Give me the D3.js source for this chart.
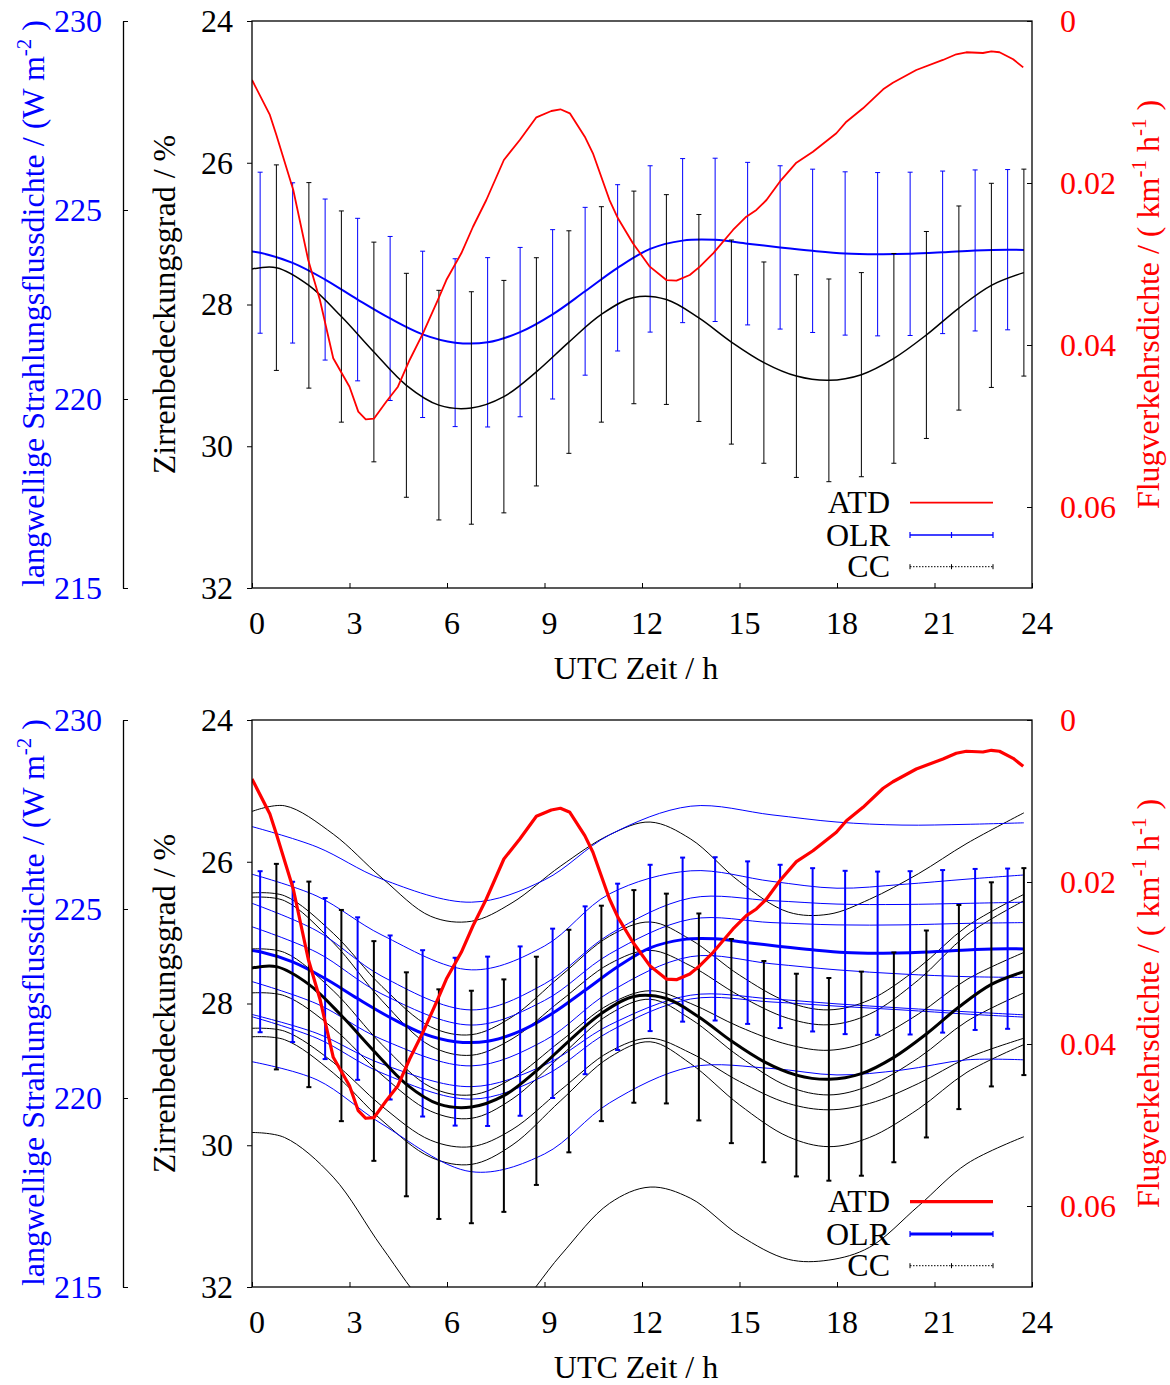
<!DOCTYPE html>
<html>
<head>
<meta charset="utf-8">
<script src="https://cdn.jsdelivr.net/npm/d3@7"></script>
<style>
  body { margin: 0; background: #fff; }
</style>
</head>
<body>
<div id="chart"></div>
<script>
// OLR mean / std, at h + 0.25
const olrHours = [0.25, 1.25, 2.25, 3.25, 4.25, 5.25, 6.25, 7.25, 8.25, 9.25, 10.25, 11.25,
    12.25, 13.25, 14.25, 15.25, 16.25, 17.25, 18.25, 19.25, 20.25, 21.25, 22.25, 23.25]
const olrMean = [223.87, 223.60, 223.16, 222.63, 222.13, 221.71, 221.49, 221.50, 221.77, 222.24, 222.85, 223.47,
    223.97, 224.19, 224.21, 224.11, 224.01, 223.92, 223.85, 223.83, 223.84, 223.88, 223.93, 223.95]
const olrStd = [2.13, 2.12, 2.13, 2.15, 2.17, 2.20, 2.22, 2.24, 2.24, 2.24, 2.22, 2.20,
    2.20, 2.17, 2.16, 2.15, 2.16, 2.16, 2.16, 2.16, 2.16, 2.15, 2.13, 2.12]
const olrStart = 223.90
const olrEnd = 223.94

// CC mean / std, at h + 0.75
const ccHours = [0.75, 1.75, 2.75, 3.75, 4.75, 5.75, 6.75, 7.75, 8.75, 9.75, 10.75, 11.75,
    12.75, 13.75, 14.75, 15.75, 16.75, 17.75, 18.75, 19.75, 20.75, 21.75, 22.75, 23.75]
const ccMean = [27.48, 27.73, 28.17, 28.67, 29.14, 29.42, 29.46, 29.30, 28.95, 28.53, 28.14, 27.90,
    27.93, 28.19, 28.53, 28.82, 29.01, 29.07, 28.99, 28.76, 28.43, 28.05, 27.73, 27.55]
const ccStd = [1.45, 1.45, 1.49, 1.55, 1.58, 1.62, 1.64, 1.64, 1.61, 1.57, 1.52, 1.50,
    1.48, 1.46, 1.44, 1.42, 1.43, 1.43, 1.44, 1.48, 1.46, 1.44, 1.44, 1.46]
const ccStart = 27.50

// air traffic density
const atdHours = [0, 0.55, 0.75, 1.27, 1.73, 2.09, 2.5, 3.0, 3.27, 3.5, 3.75, 4.13, 4.49, 4.85, 5.26,
    5.72, 5.98, 6.44, 6.8, 7.21, 7.75, 8.24, 8.75, 9.21, 9.49, 9.78, 10.24, 10.49, 11.0, 11.26,
    11.72, 12.24, 12.75, 13.06, 13.47, 13.78, 14.19, 14.8, 15.21, 15.52, 15.83, 16.24, 16.75, 17.26,
    17.98, 18.29, 18.8, 19.42, 19.72, 20.44, 21.26, 21.67, 21.98, 22.49, 22.75, 23.0, 23.42, 23.73]
const atd = [0.00728, 0.01160, 0.01407, 0.02086, 0.02951, 0.03444, 0.04164, 0.04515, 0.04823, 0.04917,
    0.04910, 0.04700, 0.04515, 0.04185, 0.03856, 0.03444, 0.03198, 0.02868, 0.02540, 0.02210,
    0.01716, 0.01469, 0.01189, 0.01111, 0.01090, 0.01140, 0.01428, 0.01633, 0.02210, 0.02436,
    0.02744, 0.03033, 0.03198, 0.03206, 0.03136, 0.03033, 0.02868, 0.02580, 0.02416, 0.02333,
    0.02210, 0.01984, 0.01749, 0.01614, 0.01386, 0.01243, 0.01078, 0.00843, 0.00762, 0.00605,
    0.00481, 0.00411, 0.00386, 0.00395, 0.00374, 0.00386, 0.00473, 0.00572]

// single curves (lower panel)
const ccThinHours = [0, 1, 2.5, 4, 5.5, 6.75, 8, 9.5, 11, 12.25, 13.5, 15, 16.5, 17.75, 19, 20.5, 22, 23.75]
const ccThin = [
    [25.29, 25.21, 25.61, 26.23, 26.77, 26.84, 26.58, 26.06, 25.62, 25.44, 25.68, 26.28, 26.71, 26.74, 26.53, 26.17, 25.74, 25.31],
    [26.44, 26.48, 27.01, 27.76, 28.33, 28.44, 28.19, 27.61, 27.05, 26.85, 27.10, 27.60, 27.98, 28.09, 27.95, 27.50, 26.91, 26.46],
    [26.50, 26.55, 27.14, 27.96, 28.60, 28.73, 28.50, 27.96, 27.44, 27.25, 27.47, 27.89, 28.21, 28.30, 28.15, 27.67, 27.03, 26.55],
    [27.23, 27.28, 27.82, 28.58, 29.18, 29.29, 29.06, 28.53, 28.01, 27.82, 28.00, 28.33, 28.58, 28.66, 28.53, 28.15, 27.66, 27.28],
    [27.85, 27.89, 28.35, 29.01, 29.52, 29.62, 29.35, 28.74, 28.15, 27.94, 28.22, 28.75, 29.17, 29.29, 29.16, 28.77, 28.25, 27.85],
    [28.35, 28.39, 28.83, 29.45, 29.93, 30.02, 29.78, 29.22, 28.68, 28.49, 28.70, 29.10, 29.41, 29.50, 29.41, 29.13, 28.77, 28.49],
    [28.47, 28.51, 28.98, 29.65, 30.17, 30.27, 30.00, 29.37, 28.76, 28.54, 28.85, 29.43, 29.88, 30.02, 29.89, 29.49, 28.97, 28.58],
    [29.82, 29.89, 30.45, 31.44, 32.34, 32.73, 32.38, 31.55, 30.82, 30.59, 30.75, 31.27, 31.61, 31.62, 31.44, 30.86, 30.26, 29.88]
]
const olrThinHours = [0, 2, 4, 6.75, 9, 11, 13.5, 16, 18, 20, 22, 23.75]
const olrThin = [
    [227.18, 226.64, 225.79, 225.18, 225.77, 226.96, 227.72, 227.49, 227.30, 227.22, 227.24, 227.28],
    [225.92, 225.34, 224.31, 223.39, 224.02, 225.40, 226.01, 225.73, 225.55, 225.65, 225.79, 225.90],
    [225.15, 224.42, 223.22, 222.33, 223.02, 224.33, 225.29, 225.22, 225.13, 225.12, 225.15, 225.18],
    [224.53, 223.85, 222.75, 221.93, 222.58, 223.81, 224.73, 224.64, 224.58, 224.58, 224.62, 224.64],
    [223.08, 222.49, 221.55, 220.85, 221.52, 222.80, 223.74, 223.55, 223.39, 223.28, 223.21, 223.19],
    [222.21, 221.71, 220.90, 220.30, 220.87, 221.93, 222.72, 222.62, 222.49, 222.38, 222.28, 222.20],
    [222.15, 221.58, 220.66, 219.97, 220.59, 221.76, 222.62, 222.54, 222.43, 222.33, 222.22, 222.14],
    [220.96, 220.48, 219.31, 218.05, 218.52, 219.87, 220.82, 220.78, 220.61, 220.74, 221.01, 221.01]
]

const xTicks = [0, 3, 6, 9, 12, 15, 18, 21, 24]
const ccTicks = [24, 26, 28, 30, 32]
const olrTicks = [230, 225, 220, 215]
const atdTicks = [0, 0.02, 0.04, 0.06]
const legendNames = ['ATD', 'OLR', 'CC']

const FONT = "'Liberation Serif', 'Times New Roman', serif"
const BLUE = '#0000ff'
const RED = '#ff0000'

let svg = d3.select('#chart').append('svg')
    .attr('width', 1170)
    .attr('height', 1385)
    .style('font-family', FONT)

let x = d3.scaleLinear().domain([0, 24]).range([252, 1032])

function errorBars (g, hours, mean, std, y, color, width) {
    let bars = g.append('g').attr('stroke', color).attr('stroke-width', width)
    hours.forEach((h, i) => {
        let lo = y(mean[i] - std[i])
        let hi = y(mean[i] + std[i])
        bars.append('line').attr('x1', x(h)).attr('x2', x(h)).attr('y1', lo).attr('y2', hi)
        bars.append('line').attr('x1', x(h) - 2.5).attr('x2', x(h) + 2.5).attr('y1', lo).attr('y2', lo)
        bars.append('line').attr('x1', x(h) - 2.5).attr('x2', x(h) + 2.5).attr('y1', hi).attr('y2', hi)
    })
}

function styleAxis (g, color) {
    g.attr('font-size', 32).attr('font-family', FONT)
    g.selectAll('text').attr('fill', color)
    g.selectAll('line').attr('stroke', '#000')
}

function drawPanel (top, full) {
    let bottom = top + 567
    let yCC = d3.scaleLinear().domain([24, 32]).range([top, bottom])
    let yOLR = d3.scaleLinear().domain([230, 215]).range([top, bottom])
    let yATD = d3.scaleLinear().domain([0, 0.07]).range([top, bottom])

    let clipId = 'clip' + top
    svg.append('clipPath').attr('id', clipId)
        .append('rect').attr('x', 252).attr('y', top).attr('width', 780).attr('height', 567)

    let plot = svg.append('g').attr('clip-path', 'url(#' + clipId + ')')
    let smooth = d3.curveCatmullRom.alpha(0.5)

    if (full) {
        let ccLine = d3.line().x(d => x(d[0])).y(d => yCC(d[1])).curve(smooth)
        plot.append('g').selectAll('path')
            .data(ccThin)
            .enter()
            .append('path')
            .attr('d', vals => ccLine(ccThinHours.map((h, i) => [h, vals[i]])))
            .attr('fill', 'none')
            .attr('stroke', '#000')
            .attr('stroke-width', 1)
        let olrLine = d3.line().x(d => x(d[0])).y(d => yOLR(d[1])).curve(smooth)
        plot.append('g').selectAll('path')
            .data(olrThin)
            .enter()
            .append('path')
            .attr('d', vals => olrLine(olrThinHours.map((h, i) => [h, vals[i]])))
            .attr('fill', 'none')
            .attr('stroke', BLUE)
            .attr('stroke-width', 1)
    }

    let barWidth = full ? 2 : 1

    // OLR
    errorBars(plot, olrHours, olrMean, olrStd, yOLR, BLUE, barWidth)
    let olrPts = [[0, olrStart]].concat(olrHours.map((h, i) => [h, olrMean[i]]), [[23.75, olrEnd]])
    plot.append('path')
        .attr('d', d3.line().x(d => x(d[0])).y(d => yOLR(d[1])).curve(smooth)(olrPts))
        .attr('fill', 'none')
        .attr('stroke', BLUE)
        .attr('stroke-width', full ? 3 : 2)

    // CC
    errorBars(plot, ccHours, ccMean, ccStd, yCC, '#000', barWidth)
    let ccPts = [[0, ccStart]].concat(ccHours.map((h, i) => [h, ccMean[i]]))
    plot.append('path')
        .attr('d', d3.line().x(d => x(d[0])).y(d => yCC(d[1])).curve(smooth)(ccPts))
        .attr('fill', 'none')
        .attr('stroke', '#000')
        .attr('stroke-width', full ? 3 : 1.5)

    // ATD
    plot.append('path')
        .attr('d', d3.line().x((d, i) => x(atdHours[i])).y(d => yATD(d))(atd))
        .attr('fill', 'none')
        .attr('stroke', RED)
        .attr('stroke-width', full ? 3.2 : 1.8)
        .attr('stroke-linejoin', 'round')

    // frame
    svg.append('rect')
        .attr('x', 252).attr('y', top).attr('width', 780).attr('height', 567)
        .attr('fill', 'none').attr('stroke', '#000').attr('stroke-width', 1.3)

    // axes
    let ccAxis = svg.append('g').attr('transform', 'translate(252,0)')
        .call(d3.axisLeft(yCC).tickValues(ccTicks).tickFormat(d3.format('d')).tickSize(5).tickPadding(14))
    ccAxis.select('.domain').remove()
    styleAxis(ccAxis, '#000')

    let olrAxis = svg.append('g').attr('transform', 'translate(123,0)')
        .call(d3.axisLeft(yOLR).tickValues(olrTicks).tickFormat(d3.format('d'))
            .tickSizeInner(-5).tickSizeOuter(0).tickPadding(21))
    olrAxis.select('.domain').attr('stroke', '#000').attr('stroke-width', 1.3)
    styleAxis(olrAxis, BLUE)

    let atdAxis = svg.append('g').attr('transform', 'translate(1032,0)')
        .call(d3.axisRight(yATD).tickValues(atdTicks).tickFormat(d => d === 0 ? '0' : d3.format('.2f')(d))
            .tickSizeInner(-5).tickSizeOuter(0).tickPadding(28))
    atdAxis.select('.domain').remove()
    styleAxis(atdAxis, RED)

    let xAxis = svg.append('g').attr('transform', 'translate(0,' + bottom + ')')
        .call(d3.axisBottom(x).tickValues(xTicks).tickFormat(d3.format('d'))
            .tickSizeInner(-5).tickSizeOuter(0).tickPadding(23))
    xAxis.select('.domain').remove()
    styleAxis(xAxis, '#000')
    xAxis.selectAll('text').attr('dx', 4.5)

    // titles
    svg.append('text')
        .attr('x', 636).attr('y', bottom + 91)
        .attr('text-anchor', 'middle').attr('font-size', 32)
        .text('UTC Zeit / h')

    let mid = (top + bottom) / 2
    svg.append('text')
        .attr('transform', 'translate(175,' + mid + ') rotate(-90)')
        .attr('text-anchor', 'middle').attr('font-size', 32)
        .text('Zirrenbedeckungsgrad / %')

    let olrTitle = svg.append('text')
        .attr('transform', 'translate(44,' + (mid - 1) + ') rotate(-90)')
        .attr('text-anchor', 'middle').attr('font-size', 32).attr('fill', BLUE)
    olrTitle.append('tspan').text('langwellige Strahlungsflussdichte / (W m')
    olrTitle.append('tspan').attr('font-size', 21).attr('dy', -13).text('-2')
    olrTitle.append('tspan').attr('dy', 13).text(' )')

    let atdTitle = svg.append('text')
        .attr('transform', 'translate(1159,' + mid + ') rotate(-90)')
        .attr('text-anchor', 'middle').attr('font-size', 32).attr('fill', RED)
    atdTitle.append('tspan').text('Flugverkehrsdichte / ( km')
    atdTitle.append('tspan').attr('font-size', 21).attr('dy', -13).text('-1')
    atdTitle.append('tspan').attr('dy', 13).text(' h')
    atdTitle.append('tspan').attr('font-size', 21).attr('dy', -13).text('-1')
    atdTitle.append('tspan').attr('dy', 13).text(' )')

    // legend
    let legend = svg.append('g')
    let rows = [top + 481.7, top + 514, top + 545.7]
    legendNames.forEach((name, i) => {
        legend.append('text')
            .attr('x', 890).attr('y', rows[i] + 10.6)
            .attr('text-anchor', 'end').attr('font-size', 32)
            .text(name)
    })
    legend.append('line')
        .attr('x1', 910).attr('x2', 993).attr('y1', rows[0]).attr('y2', rows[0])
        .attr('stroke', RED).attr('stroke-width', full ? 3.2 : 1.8)
    let olrKey = legend.append('g').attr('stroke', BLUE)
    olrKey.append('line').attr('x1', 910).attr('x2', 993).attr('y1', rows[1]).attr('y2', rows[1])
        .attr('stroke-width', full ? 3 : 1.5)
    ;[910, 951.5, 993].forEach(px => {
        olrKey.append('line').attr('x1', px).attr('x2', px).attr('y1', rows[1] - 3).attr('y2', rows[1] + 3)
            .attr('stroke-width', 1.2)
    })
    let ccKey = legend.append('g').attr('stroke', '#000')
    ccKey.append('line').attr('x1', 910).attr('x2', 993).attr('y1', rows[2]).attr('y2', rows[2])
        .attr('stroke-width', 1).attr('stroke-dasharray', '1.5,1.5')
    ;[910, 951.5, 993].forEach(px => {
        ccKey.append('line').attr('x1', px).attr('x2', px).attr('y1', rows[2] - 2.5).attr('y2', rows[2] + 2.5)
            .attr('stroke-width', 1)
    })
}

drawPanel(21, false)
drawPanel(720, true)
</script>
</body>
</html>
